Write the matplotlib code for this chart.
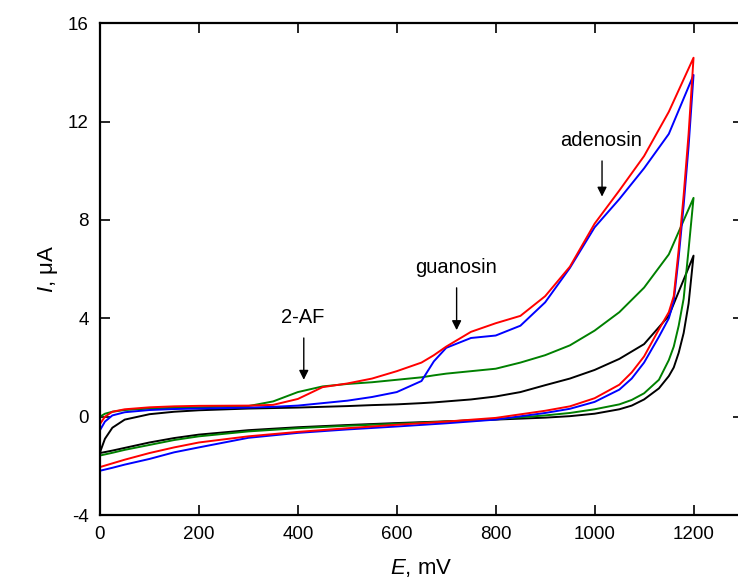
import numpy as np
import matplotlib
matplotlib.use('Agg')
import matplotlib.pyplot as plt

plt.rcParams['font.family'] = ['Liberation Sans', 'DejaVu Sans']
plt.rcParams['mathtext.fontset'] = 'custom'
plt.rcParams['mathtext.it'] = 'Liberation Sans:italic'
plt.rcParams['mathtext.rm'] = 'Liberation Sans'
plt.rcParams['axes.unicode_minus'] = False

# potentiel (mV) : balayage aller puis retour
E_aller = [0, 10, 25, 50, 100, 150, 200, 300, 350, 400, 450, 500, 550, 600, 650, 675,
           700, 750, 800, 850, 900, 950, 1000, 1050, 1100, 1150, 1200]
E_retour = [1200, 1190, 1180, 1170, 1160, 1150, 1130, 1100, 1075, 1050, 1000, 950,
            900, 800, 700, 600, 500, 400, 300, 200, 150, 100, 50, 25, 0]

# courant (uA)
noir_aller = [-1.45, -0.9, -0.45, -0.12, 0.1, 0.2, 0.26, 0.33, 0.35, 0.37, 0.4, 0.43,
              0.47, 0.5, 0.55, 0.58, 0.62, 0.7, 0.82, 1.0, 1.28, 1.55, 1.9, 2.35, 2.95,
              4.1, 6.55]
noir_retour = [6.55, 4.6, 3.4, 2.6, 2.0, 1.65, 1.15, 0.7, 0.45, 0.3, 0.12, 0.02,
               -0.04, -0.12, -0.19, -0.26, -0.34, -0.43, -0.55, -0.73, -0.87, -1.05,
               -1.27, -1.38, -1.48]

rouge_aller = [-0.3, 0.0, 0.2, 0.3, 0.38, 0.42, 0.44, 0.45, 0.48, 0.72, 1.2, 1.35,
               1.55, 1.85, 2.2, 2.5, 2.85, 3.45, 3.8, 4.1, 4.9, 6.1, 7.85, 9.2, 10.6,
               12.4, 14.6]
rouge_retour = [14.6, 11.5, 9.0, 6.8, 4.9, 4.25, 3.55, 2.45, 1.8, 1.3, 0.75, 0.42,
                0.24, -0.05, -0.2, -0.33, -0.47, -0.62, -0.8, -1.05, -1.25, -1.48,
                -1.75, -1.9, -2.05]

bleu_aller = [-0.55, -0.2, 0.05, 0.18, 0.27, 0.31, 0.33, 0.37, 0.4, 0.45, 0.55, 0.65,
              0.8, 1.0, 1.45, 2.25, 2.8, 3.2, 3.3, 3.7, 4.65, 6.05, 7.7, 8.85, 10.1,
              11.5, 13.9]
bleu_retour = [13.9, 11.0, 8.6, 6.5, 4.7, 4.0, 3.25, 2.2, 1.55, 1.1, 0.6, 0.32,
               0.15, -0.12, -0.27, -0.4, -0.52, -0.66, -0.86, -1.25, -1.45, -1.72,
               -1.95, -2.08, -2.2]

vert_aller = [0.0, 0.12, 0.2, 0.27, 0.33, 0.36, 0.38, 0.43, 0.62, 1.0, 1.23, 1.33,
              1.4, 1.5, 1.6, 1.68, 1.75, 1.85, 1.95, 2.2, 2.5, 2.9, 3.5, 4.25, 5.25,
              6.6, 8.9]
vert_retour = [8.9, 6.8, 4.8, 3.7, 2.85, 2.3, 1.5, 0.95, 0.68, 0.5, 0.3, 0.15,
               0.05, -0.1, -0.2, -0.29, -0.37, -0.47, -0.6, -0.8, -0.95, -1.15,
               -1.35, -1.47, -1.58]

courbes = [
    (noir_aller, noir_retour, 'black'),
    (vert_aller, vert_retour, '#008000'),
    (bleu_aller, bleu_retour, '#0000ff'),
    (rouge_aller, rouge_retour, '#ff0000'),
]

# annotations : texte, position de la pointe, longueur de la fleche
pics = [('2-AF', 412, 1.5, 1.7), ('guanosin', 721, 3.52, 1.72), ('adenosin', 1015, 8.95, 1.45)]

fig = plt.figure(figsize=(7.38, 5.86), dpi=100)
ax = fig.add_axes([100/738, 71/586, 643/738, 491.7/586])

for aller, retour, c in courbes:
    ax.plot(E_aller + E_retour, aller + retour, color=c, lw=1.4)

for nom, x, y, L in pics:
    ax.annotate('', xy=(x, y), xytext=(x, y + L),
                arrowprops=dict(arrowstyle='-|>', color='black', lw=1.0,
                                mutation_scale=14, shrinkA=0, shrinkB=0))
    ax.text(x - 2, y + L + 0.45, nom, ha='center', va='bottom', fontsize=14.5)

ax.set_xlim(0, 1300)
ax.set_ylim(-4, 16)
ax.set_xticks(np.arange(0, 1201, 200))
ax.set_yticks(np.arange(-4, 17, 4))
ax.tick_params(direction='in', length=7, width=1.2, labelsize=13.5,
               top=True, right=True, pad=8)
for s in ax.spines.values():
    s.set_linewidth(1.6)
ax.spines['right'].set_visible(False)

ax.set_xlabel(r'$\mathit{E}$, mV', fontsize=16, labelpad=10)
ax.set_ylabel(r'$\mathit{I}$, μA', fontsize=16, labelpad=6)

plt.savefig('out.png', dpi=100)
